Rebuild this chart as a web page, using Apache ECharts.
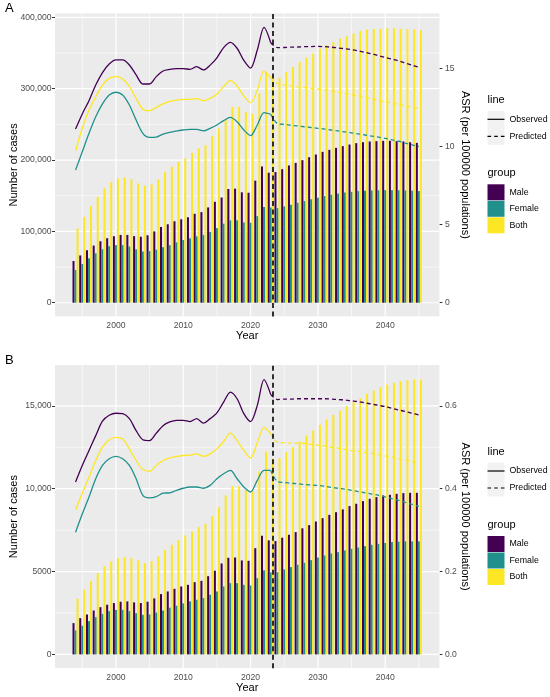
<!DOCTYPE html>
<html lang="en">
<head>
    <meta charset="utf-8"/>
    <title>Cases and ASR</title>
    <script src="https://cdn.jsdelivr.net/npm/echarts@6/dist/echarts.min.js"></script>
</head>
<body style="margin:0;background-color:#fff;">
<div id="echarts" style="width:550px;height:697px;"></div>
<script type="text/javascript">
    // years on the x axis, observed 1994-2023, predicted 2023-2045
    var years = [1994, 1995, 1996, 1997, 1998, 1999, 2000, 2001, 2002, 2003,
        2004, 2005, 2006, 2007, 2008, 2009, 2010, 2011, 2012, 2013,
        2014, 2015, 2016, 2017, 2018, 2019, 2020, 2021, 2022, 2023,
        2024, 2025, 2026, 2027, 2028, 2029, 2030, 2031, 2032, 2033,
        2034, 2035, 2036, 2037, 2038, 2039, 2040, 2041, 2042, 2043,
        2044, 2045];
    var obsYears = years.slice(0, 30);
    var predYears = years.slice(29);
    var xTicks = [2000, 2010, 2020, 2030, 2040];
    var xMinor = [1995, 2005, 2015, 2025, 2035, 2045];
    var cutYear = 2023;

    var groups = ['Male', 'Female', 'Both'];
    var colors = ['#440154', '#21908C', '#FDE725'];

    // ---- panel A ----
    var maleCasesA = [58500, 66300, 73600, 80100, 86200, 90400, 93200, 95000, 95000, 93400,
        92500, 94500, 100000, 106200, 110000, 114200, 117000, 119800, 124700, 127000,
        133600, 141500, 147500, 159400, 159900, 154800, 154200, 171100, 191000, 182300,
        183200, 187200, 192400, 196000, 199900, 204000, 207800, 211500, 214300, 217100,
        219500, 221800, 223700, 225000, 226000, 226500, 226900, 226900, 226500, 226000,
        225000, 224100];
    var femaleCasesA = [45800, 54400, 62200, 69200, 75000, 79200, 80800, 80800, 78700, 74800,
        71700, 72400, 74300, 77800, 80600, 84600, 88000, 90200, 93000, 94900,
        99400, 104600, 110800, 115500, 115500, 112500, 112100, 121400, 134200, 133500,
        132600, 135000, 137300, 140000, 142500, 145000, 147300, 149500, 151300, 153000,
        154500, 155500, 156400, 157000, 157400, 157600, 157800, 157800, 157600, 157400,
        157000, 156500];
    var bothCasesA = [104200, 120400, 135400, 148500, 160200, 169000, 174200, 175600, 173200, 167200,
        163900, 166200, 172800, 183000, 190800, 197500, 202200, 210100, 216200, 220900,
        233500, 244200, 257000, 274500, 274500, 267500, 265100, 293200, 323500, 316000,
        315700, 323500, 330500, 337500, 343700, 349300, 356300, 360900, 365500, 370300,
        373500, 377300, 381000, 382900, 383800, 384200, 384700, 384700, 384200, 383300,
        382900, 381900];
    var maleObsA = [11.13, 12.1, 12.95, 13.95, 14.75, 15.3, 15.56, 15.56, 15.24, 14.6,
        14.02, 14.02, 14.49, 14.85, 14.95, 15.0, 15.0, 14.96, 15.13, 14.92,
        15.23, 15.7, 16.35, 16.69, 16.31, 15.53, 15.04, 16.2, 17.65, 16.66];
    var malePredA = [16.66, 16.35, 16.36, 16.38, 16.39, 16.41, 16.42, 16.43, 16.41, 16.38,
        16.33, 16.28, 16.22, 16.14, 16.05, 15.95, 15.84, 15.72, 15.61, 15.5,
        15.36, 15.22, 15.09];
    var femaleObsA = [8.5, 9.68, 10.86, 11.92, 12.74, 13.31, 13.49, 13.31, 12.67, 11.71,
        10.86, 10.6, 10.62, 10.81, 10.92, 11.0, 11.07, 11.11, 11.11, 11.01,
        11.18, 11.39, 11.67, 11.88, 11.6, 11.07, 10.71, 11.39, 12.18, 12.08];
    var femalePredA = [12.08, 11.48, 11.43, 11.38, 11.33, 11.28, 11.23, 11.18, 11.13, 11.07,
        11.01, 10.95, 10.89, 10.82, 10.75, 10.68, 10.61, 10.53, 10.44, 10.35,
        10.23, 10.12, 10.0];
    var bothObsA = [9.74, 11.18, 12.35, 13.2, 13.95, 14.38, 14.49, 14.34, 13.85, 13.1,
        12.4, 12.31, 12.52, 12.74, 12.9, 12.98, 13.04, 13.04, 13.08, 12.95,
        13.1, 13.38, 13.85, 14.23, 13.89, 13.25, 12.82, 13.63, 14.85, 14.42];
    var bothPredA = [14.42, 14.05, 13.97, 13.9, 13.84, 13.79, 13.74, 13.7, 13.64, 13.58,
        13.5, 13.42, 13.33, 13.25, 13.16, 13.07, 12.98, 12.89, 12.8, 12.71,
        12.62, 12.53, 12.44];
    var caseTicksA = [0, 100000, 200000, 300000, 400000];
    var caseMinorA = [50000, 150000, 250000, 350000];
    var asrTicksA = [0, 5, 10, 15];

    // ---- panel B ----
    var maleCasesB = [1890, 2190, 2410, 2650, 2850, 3000, 3100, 3180, 3200, 3140,
        3100, 3180, 3380, 3640, 3800, 3960, 4100, 4200, 4360, 4440,
        4720, 5050, 5490, 5830, 5850, 5670, 5650, 6410, 7160, 6880,
        6840, 7040, 7220, 7380, 7610, 7800, 8020, 8220, 8420, 8580,
        8750, 8950, 9090, 9250, 9390, 9490, 9590, 9630, 9690, 9730,
        9750, 9750];
    var femaleCasesB = [1450, 1730, 2010, 2250, 2450, 2610, 2690, 2690, 2610, 2490,
        2390, 2410, 2530, 2650, 2820, 2940, 3080, 3200, 3300, 3400,
        3600, 3800, 4100, 4300, 4300, 4200, 4160, 4600, 5070, 4950,
        4960, 5130, 5270, 5410, 5530, 5690, 5850, 5970, 6090, 6170,
        6270, 6370, 6450, 6530, 6610, 6670, 6730, 6780, 6800, 6820,
        6820, 6820];
    var bothCasesB = [3360, 3900, 4420, 4900, 5310, 5610, 5810, 5870, 5810, 5670,
        5510, 5630, 5910, 6310, 6620, 6900, 7180, 7420, 7680, 7880,
        8340, 8880, 9590, 10150, 10150, 9890, 9830, 11040, 12240, 11800,
        11840, 12200, 12500, 12840, 13210, 13510, 13850, 14170, 14450, 14720,
        14980, 15220, 15460, 15720, 15920, 16120, 16270, 16390, 16480, 16540,
        16590, 16590];
    var maleObsB = [0.416, 0.456, 0.492, 0.528, 0.563, 0.577, 0.582, 0.581, 0.569, 0.54,
        0.518, 0.516, 0.534, 0.552, 0.561, 0.565, 0.565, 0.562, 0.569, 0.558,
        0.569, 0.583, 0.609, 0.633, 0.617, 0.581, 0.562, 0.601, 0.663, 0.627];
    var malePredB = [0.627, 0.615, 0.616, 0.616, 0.617, 0.617, 0.617, 0.617, 0.617, 0.616,
        0.615, 0.614, 0.612, 0.61, 0.607, 0.604, 0.601, 0.598, 0.594, 0.59,
        0.586, 0.582, 0.578];
    var femaleObsB = [0.295, 0.339, 0.38, 0.424, 0.456, 0.472, 0.478, 0.472, 0.456, 0.424,
        0.384, 0.378, 0.381, 0.389, 0.39, 0.396, 0.401, 0.404, 0.404, 0.401,
        0.408, 0.424, 0.436, 0.444, 0.424, 0.404, 0.392, 0.42, 0.444, 0.444];
    var femalePredB = [0.444, 0.417, 0.415, 0.413, 0.412, 0.41, 0.409, 0.408, 0.406, 0.403,
        0.401, 0.399, 0.396, 0.393, 0.39, 0.387, 0.384, 0.38, 0.376, 0.372,
        0.367, 0.362, 0.357];
    var bothObsB = [0.349, 0.389, 0.428, 0.468, 0.5, 0.518, 0.524, 0.52, 0.496, 0.468,
        0.446, 0.442, 0.456, 0.468, 0.474, 0.478, 0.48, 0.481, 0.484, 0.478,
        0.484, 0.496, 0.514, 0.534, 0.516, 0.492, 0.474, 0.511, 0.548, 0.532];
    var bothPredB = [0.532, 0.512, 0.511, 0.51, 0.51, 0.509, 0.507, 0.505, 0.503, 0.5,
        0.498, 0.495, 0.492, 0.49, 0.487, 0.485, 0.482, 0.479, 0.476, 0.472,
        0.469, 0.465, 0.461];
    var caseTicksB = [0, 5000, 10000, 15000];
    var caseMinorB = [2500, 7500, 12500];
    var asrTicksB = [0, 0.2, 0.4, 0.6];

    var FONT = '"Liberation Sans", Arial, sans-serif';
    var X_MIN = 1990.95, X_MAX = 2048.05;
    var panels = [
        {tag: 'A', top: 13.3, yMin: -19300, yMax: 405700, scale: 21870,
            cases: [maleCasesA, femaleCasesA, bothCasesA],
            obs: [maleObsA, femaleObsA, bothObsA], pred: [malePredA, femalePredA, bothPredA],
            caseTicks: caseTicksA, caseMinor: caseMinorA, asrTicks: asrTicksA, asrDigits: 0},
        {tag: 'B', top: 365, yMin: -830, yMax: 17460, scale: 25000,
            cases: [maleCasesB, femaleCasesB, bothCasesB],
            obs: [maleObsB, femaleObsB, bothObsB], pred: [malePredB, femalePredB, bothPredB],
            caseTicks: caseTicksB, caseMinor: caseMinorB, asrTicks: asrTicksB, asrDigits: 1}
    ];
    var PANEL_LEFT = 55, PANEL_W = 384.4, PANEL_H = 303.2;

    function pairs(xs, ys) {
        return xs.map(function (x, i) { return [x, ys[i]]; });
    }
    function inList(list, v) {
        for (var i = 0; i < list.length; i++) {
            if (Math.abs(list[i] - v) < 1e-6) return true;
        }
        return false;
    }
    function caseLabel(v) {
        return v >= 10000 ? v.toLocaleString('en-US') : String(v);
    }

    var tickText = {color: '#4D4D4D', fontSize: 8.6, fontFamily: FONT};
    var titleText = {color: '#000', fontSize: 11, fontFamily: FONT};
    var tickLine = {length: 3, lineStyle: {color: '#333', width: 1}};

    var grid = [], xAxis = [], yAxis = [], series = [], legend = [], title = [], graphic = [];

    panels.forEach(function (p, i) {
        grid.push({left: PANEL_LEFT, top: p.top, width: PANEL_W, height: PANEL_H,
            show: false, outerBoundsMode: 'none'});

        xAxis.push({
            type: 'value', gridIndex: i, min: X_MIN, max: X_MAX, splitNumber: 5,
            name: 'Year', nameLocation: 'middle', nameGap: 14, nameTextStyle: titleText,
            nameMoveOverlap: false,
            axisLine: {show: false},
            axisTick: Object.assign({customValues: xTicks}, tickLine),
            axisLabel: Object.assign({margin: 5, customValues: xTicks, formatter: function (v) {
                return inList(xTicks, v) ? String(v) : '';
            }}, tickText),
            splitLine: {show: false}
        });
        yAxis.push({
            type: 'value', gridIndex: i, position: 'left', min: p.yMin, max: p.yMax, splitNumber: 4,
            name: 'Number of cases', nameLocation: 'middle', nameRotate: 90, nameGap: 35.5,
            nameTextStyle: titleText, nameMoveOverlap: false,
            axisLine: {show: false},
            axisTick: Object.assign({customValues: p.caseTicks}, tickLine),
            axisLabel: Object.assign({margin: 3.5, customValues: p.caseTicks, formatter: function (v) {
                return inList(p.caseTicks, v) ? caseLabel(v) : '';
            }}, tickText),
            splitLine: {show: false}
        });
        yAxis.push({
            type: 'value', gridIndex: i, position: 'right',
            min: p.yMin / p.scale, max: p.yMax / p.scale, splitNumber: 4,
            name: 'ASR (per 100000 populations)', nameLocation: 'middle', nameRotate: -90, nameGap: 20,
            nameTextStyle: titleText, nameMoveOverlap: false,
            axisLine: {show: false},
            axisTick: Object.assign({customValues: p.asrTicks}, tickLine),
            axisLabel: Object.assign({margin: 5.5, customValues: p.asrTicks, formatter: function (v) {
                return inList(p.asrTicks, v) ? v.toFixed(p.asrDigits) : '';
            }}, tickText),
            splitLine: {show: false}
        });

        // grey panel: an area filled from the top of the axis down to its start (z 1)
        series.push({type: 'line', xAxisIndex: i, yAxisIndex: 2 * i,
            data: [[X_MIN, p.yMax], [X_MAX, p.yMax]],
            symbol: 'none', silent: true, z: 1, animation: false,
            lineStyle: {width: 0, color: '#EBEBEB'},
            areaStyle: {color: '#EBEBEB', opacity: 1, origin: 'start'}});

        // white panel grid lines through the axes (z 2), bars above them (z 3)
        function gridLine(pts, w) {
            series.push({type: 'line', xAxisIndex: i, yAxisIndex: 2 * i, data: pts,
                symbol: 'none', silent: true, z: 2, clip: false, animation: false,
                itemStyle: {color: '#ffffff'},
                lineStyle: {color: '#ffffff', width: w, opacity: 1}});
        }
        xMinor.forEach(function (v) { gridLine([[v, p.yMin], [v, p.yMax]], 0.6); });
        p.caseMinor.forEach(function (v) { gridLine([[X_MIN, v], [X_MAX, v]], 0.6); });
        xTicks.forEach(function (v) { gridLine([[v, p.yMin], [v, p.yMax]], 1.2); });
        p.caseTicks.forEach(function (v) { gridLine([[X_MIN, v], [X_MAX, v]], 1.2); });

        groups.forEach(function (g, k) {
            var bar = {
                type: 'bar', name: g, xAxisIndex: i, yAxisIndex: 2 * i,
                data: pairs(years, p.cases[k]),
                barWidth: '30%', barGap: '0%',
                itemStyle: {color: colors[k]}, z: 3
            };
            if (k === 2) {
                // vertical dashed line between observed and predicted
                bar.markLine = {silent: true, symbol: ['none', 'none'], z: 10, animation: false,
                    label: {show: false}, lineStyle: {color: '#000', type: [5, 3.5], width: 1.6},
                    data: [{xAxis: cutYear}]};
            }
            series.push(bar);
        });
        groups.forEach(function (g, k) {
            series.push({
                type: 'line', name: g + ' observed', xAxisIndex: i, yAxisIndex: 2 * i + 1,
                data: pairs(obsYears, p.obs[k]), symbol: 'none', smooth: 0.3, z: 4,
                itemStyle: {color: colors[k]}, lineStyle: {color: colors[k], width: 1.3}
            });
            series.push({
                type: 'line', name: g + ' predicted', xAxisIndex: i, yAxisIndex: 2 * i + 1,
                data: pairs(predYears, p.pred[k]), symbol: 'none', smooth: 0.3, z: 4,
                itemStyle: {color: colors[k]}, lineStyle: {color: colors[k], width: 1.3, type: [4, 3]}
            });
        });

        var lt = p.top;
        title.push({text: p.tag, left: 5, top: lt - 12, padding: 0,
            textStyle: {fontSize: 13, fontWeight: 'normal', color: '#000', fontFamily: FONT, lineHeight: 14}});
        title.push({text: 'line', left: 487.5, top: lt + 81, padding: 0,
            textStyle: Object.assign({fontWeight: 'normal', lineHeight: 12}, titleText)});
        title.push({text: 'group', left: 487.5, top: lt + 154, padding: 0,
            textStyle: Object.assign({fontWeight: 'normal', lineHeight: 12}, titleText)});

        graphic.push({type: 'rect', silent: true, z: 0,
            shape: {x: 487.5, y: lt + 97.5, width: 17, height: 34}, style: {fill: '#F2F2F2'}});

        legend.push({orient: 'vertical', left: 487.5, top: lt + 97.5, padding: 0,
            itemWidth: 17, itemHeight: 17, itemGap: 0, selectedMode: false, symbolKeepAspect: true,
            data: [
                {name: 'Observed', icon: 'path://M0,0H17V1.2H0Z'},
                {name: 'Predicted', icon: 'path://M0,0H3.6V1.2H0Z M6.7,0H10.3V1.2H6.7Z M13.4,0H17V1.2H13.4Z'}
            ],
            textStyle: {color: '#000', fontSize: 8.8, fontFamily: FONT, lineHeight: 17}});
        legend.push({orient: 'vertical', left: 487.5, top: lt + 171, padding: 0,
            itemWidth: 17, itemHeight: 16, itemGap: 0.5, selectedMode: false, icon: 'rect',
            data: groups,
            textStyle: {color: '#000', fontSize: 8.8, fontFamily: FONT}});
    });

    // key entries for the line legend
    series.push({type: 'line', name: 'Observed', xAxisIndex: 0, yAxisIndex: 1, data: [], symbol: 'none',
        itemStyle: {color: '#000'}, lineStyle: {color: '#000', width: 1.2}});
    series.push({type: 'line', name: 'Predicted', xAxisIndex: 0, yAxisIndex: 1, data: [], symbol: 'none',
        itemStyle: {color: '#000'}, lineStyle: {color: '#000', width: 1.2, type: [3, 2.5]}});

    var myChart = echarts.init(document.getElementById('echarts'));
    myChart.setOption({
        animation: false,
        backgroundColor: '#fff',
        textStyle: {fontFamily: FONT},
        title: title,
        legend: legend,
        graphic: graphic,
        grid: grid,
        xAxis: xAxis,
        yAxis: yAxis,
        series: series
    });
</script>
</body>
</html>
